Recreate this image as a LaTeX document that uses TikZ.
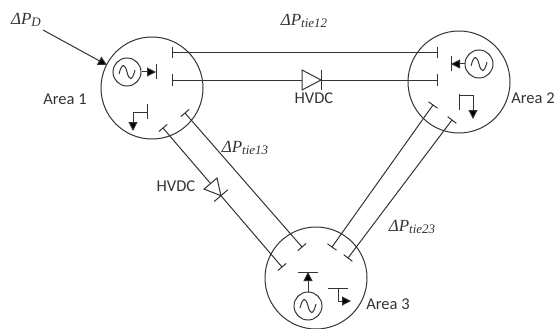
\documentclass[tikz,border=0pt]{standalone}
\usepackage{fontspec}
\setmainfont{Carlito}
\newfontfamily\deltafont{Liberation Serif}
\usetikzlibrary{calc,arrows.meta}
\definecolor{ink}{gray}{0.2}
\tikzset{
  wire/.style={draw=ink,line width=1pt},
  areacircle/.style={circle,draw=ink,line width=1pt,minimum size=102pt,inner sep=0pt},
  gencircle/.style={circle,draw=ink,line width=1pt,minimum size=28pt,inner sep=0pt},
  head/.style={wire,-{Triangle[length=9pt,width=9pt,fill=black]}},
  lbl/.style={text=ink,inner sep=0pt,font=\fontsize{16.5}{18}\selectfont},
  mlbl/.style={text=ink,inner sep=0pt,font=\deltafont\itshape\fontsize{17}{18}\selectfont},
  diodeshape/.style={wire,fill=white,line join=miter},
}
\newcommand{\dpow}[1]{ΔP\raisebox{-0.35ex}{\fontsize{13}{13}\selectfont #1}}
% perpendicular end bar at #1 on the line towards #2
\newcommand{\tiebar}[2]{\draw[wire] ($(#1)!5.5pt!90:(#2)$) -- ($(#1)!5.5pt!-90:(#2)$);}
\newcommand{\sinewave}[1]{\draw[wire] ($(#1.center)+(-8,2)$) .. controls ($(#1.center)+(-5,-10)$) and ($(#1.center)+(-2,-8)$) .. (#1.center) .. controls ($(#1.center)+(2,8)$) and ($(#1.center)+(5,10)$) .. ($(#1.center)+(8,-2)$);}
\begin{document}
\begin{tikzpicture}[x=1pt,y=-1pt]
\useasboundingbox (0,0) rectangle (554,329);
% areas
\node[areacircle] (A1) at (152,88) {};
\node[areacircle] (A2) at (459,82) {};
\node[areacircle] (A3) at (316,278) {};
% tie 12
\coordinate (a) at (172,53); \coordinate (b) at (437,53);
\draw[wire] (a) -- (b); \tiebar{a}{b} \tiebar{b}{a}
\coordinate (c) at (172,80); \coordinate (d) at (437,80);
\draw[wire] (c) -- (d); \tiebar{c}{d} \tiebar{d}{c}
% HVDC 12
\draw[diodeshape] (302,70) -- (321,80) -- (302,90) -- cycle;
\draw[wire] (321,70) -- (321,90);
% tie 13
\coordinate (e) at (163,128); \coordinate (f) at (282,267);
\draw[wire] (e) -- (f); \tiebar{e}{f} \tiebar{f}{e}
\coordinate (g) at (185,113); \coordinate (h) at (302,247);
\draw[wire] (g) -- (h); \tiebar{g}{h} \tiebar{h}{g}
% HVDC 13
\coordinate (dt) at ($(e)!0.487!(f)$);
\begin{scope}[shift={(dt)},rotate=-49.4]
  \draw[diodeshape] (-16,-8.5) -- (0,0) -- (-16,8.5) -- cycle;
  \draw[wire] (0,-9) -- (0,9);
\end{scope}
% tie 23
\coordinate (i) at (433,105); \coordinate (j) at (332,247);
\draw[wire] (i) -- (j); \tiebar{i}{j} \tiebar{j}{i}
\coordinate (k) at (452,120); \coordinate (l) at (348,258);
\draw[wire] (k) -- (l); \tiebar{k}{l} \tiebar{l}{k}
% generator 1
\node[gencircle] (G1) at (127,72) {}; \sinewave{G1}
\coordinate (gb1) at (156,72);
\draw[head] (G1) -- (gb1);
\draw[wire] (156,64) -- (156,79);
% load 1
\coordinate (lb1) at (147,112); \coordinate (lt1) at (133,131);
\draw[wire] (147,104) -- (147,119);
\draw[head] (lb1) -| (lt1);
% generator 2
\node[gencircle] (G2) at (479,64) {}; \sinewave{G2}
\coordinate (gb2) at (451,64);
\draw[head] (G2) -- (gb2);
\draw[wire] (451,56) -- (451,71);
% load 2
\coordinate (lb2) at (459,95); \coordinate (lt2) at (473,119);
\draw[wire] (459,94) -- (459,110);
\draw[head] (lb2) -| (lt2);
% generator 3
\node[gencircle] (G3) at (308,306) {}; \sinewave{G3}
\coordinate (gb3) at (308,272);
\draw[head] (G3) -- (gb3);
\draw[wire] (298,272) -- (318,272);
% load 3
\coordinate (lb3) at (338,288); \coordinate (lt3) at (351,301);
\draw[wire] (328,288) -- (348,288);
\draw[head] (lb3) |- (lt3);
% disturbance
\coordinate (pd) at (43,30);
\draw[head] (pd) -- (107,65);
% labels
\node[mlbl] (l1) at (26,20) {\dpow{D}};
\node[mlbl] (l2) at (304,21) {\dpow{tie12}};
\node[mlbl] (l3) at (245,148) {\dpow{tie13}};
\node[mlbl] (l4) at (412,227) {\dpow{tie23}};
\node[lbl] (t1) at (65,99) {Area 1};
\node[lbl] (t2) at (533,98) {Area 2};
\node[lbl] (t3) at (388,304) {Area 3};
\node[lbl] (t4) at (314,98) {HVDC};
\node[lbl] (t5) at (176,186) {HVDC};
\end{tikzpicture}
\end{document}
